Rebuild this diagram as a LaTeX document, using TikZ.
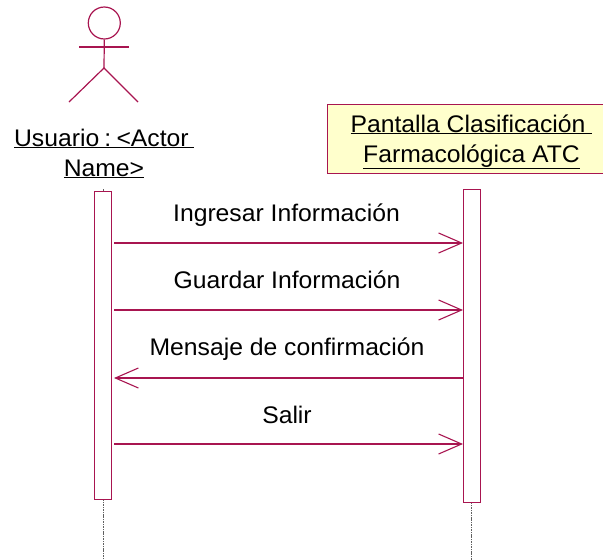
\documentclass[tikz,border=0pt]{standalone}
\usepackage{fontspec}
\setmainfont[FakeStretch=1.03]{Liberation Sans}
\definecolor{umlline}{HTML}{A81550}
\definecolor{umlfill}{HTML}{FFFFCC}
\definecolor{lifegrey}{HTML}{606060}
\newcommand{\ulbox}[1]{\underline{#1}}
\tikzset{
  txt/.style={anchor=base,inner sep=0pt,font=\fontsize{24}{28}\selectfont,text=black},
  msg/.style={txt},
  bar/.style={draw=umlline,line width=1.1pt,fill=white,anchor=north west,inner sep=0pt,minimum width=17pt},
  figure/.style={draw=umlline,line width=1.2pt},
  message/.style={draw=umlline,line width=1.2pt,-{Straight Barb[length=23pt,width=20pt,line width=1.1pt]}},
  lifeline/.style={draw=lifegrey,line width=1.2pt,dash pattern=on 1.1pt off 0.6pt}
}
\usetikzlibrary{arrows.meta}
\begin{document}
\begin{tikzpicture}[x=1pt,y=-1pt]
\useasboundingbox (0,0) rectangle (603,560);
% actor
\node[figure,circle,minimum size=32pt,inner sep=0pt] (head) at (104.3,23) {};
\coordinate (hip) at (104,68);
\coordinate (armL) at (79,47);
\coordinate (armR) at (129,47);
\coordinate (legL) at (69,102);
\coordinate (legR) at (138,102);
\draw[figure] (head.south) -- (hip);
\draw[figure,line width=1.6pt] (armL) -- (armR);
\draw[figure] (legL) -- (hip) -- (legR);
\node[txt] (ulabel1) at (104,146) {\ulbox{Usuario\hspace{5.2pt}:\hspace{5.2pt}<Actor\hspace{5.2pt}}};
\node[txt] (ulabel2) at (104,176) {\ulbox{Name>}};
% object
\node[draw=umlline,line width=1.1pt,fill=umlfill,anchor=north west,inner sep=0pt,minimum width=280pt,minimum height=69pt] (obj) at (326.5,104) {};
\node[txt] (olabel1) at (471.5,132) {\ulbox{Pantalla Clasificación\ }};
\node[txt] (olabel2) at (471.5,162) {\ulbox{Farmacológica ATC}};
% lifelines
\coordinate (uend) at (103.5,560);
\coordinate (pend) at (471.5,560);
% bars
\node[bar,minimum height=308pt] (ubar) at (94,191) {};
\node[bar,minimum height=313pt] (pbar) at (463,189) {};
\coordinate (utick) at (103.5,189);
\draw[draw=lifegrey,line width=0.6pt] (utick) -- (ubar.north -| utick);
\draw[lifeline] (ubar.south -| uend) -- (uend);
\draw[lifeline] (pbar.south -| pend) -- (pend);
% messages
\coordinate (u1) at (114,243); \coordinate (p1) at (463,243);
\coordinate (u2) at (114,310); \coordinate (p2) at (463,310);
\coordinate (u3) at (114,378); \coordinate (p3) at (463,378);
\coordinate (u4) at (114,444); \coordinate (p4) at (463,444);
\draw[message] (u1) -- (p1);
\draw[message] (u2) -- (p2);
\draw[message] (p3) -- (u3);
\draw[message] (u4) -- (p4);
\node[msg] (m1) at (286.5,221) {Ingresar Información};
\node[msg] (m2) at (287,288) {Guardar Información};
\node[msg] (m3) at (287,355) {Mensaje de confirmación};
\node[msg] (m4) at (287,423) {Salir};
\end{tikzpicture}
\end{document}
